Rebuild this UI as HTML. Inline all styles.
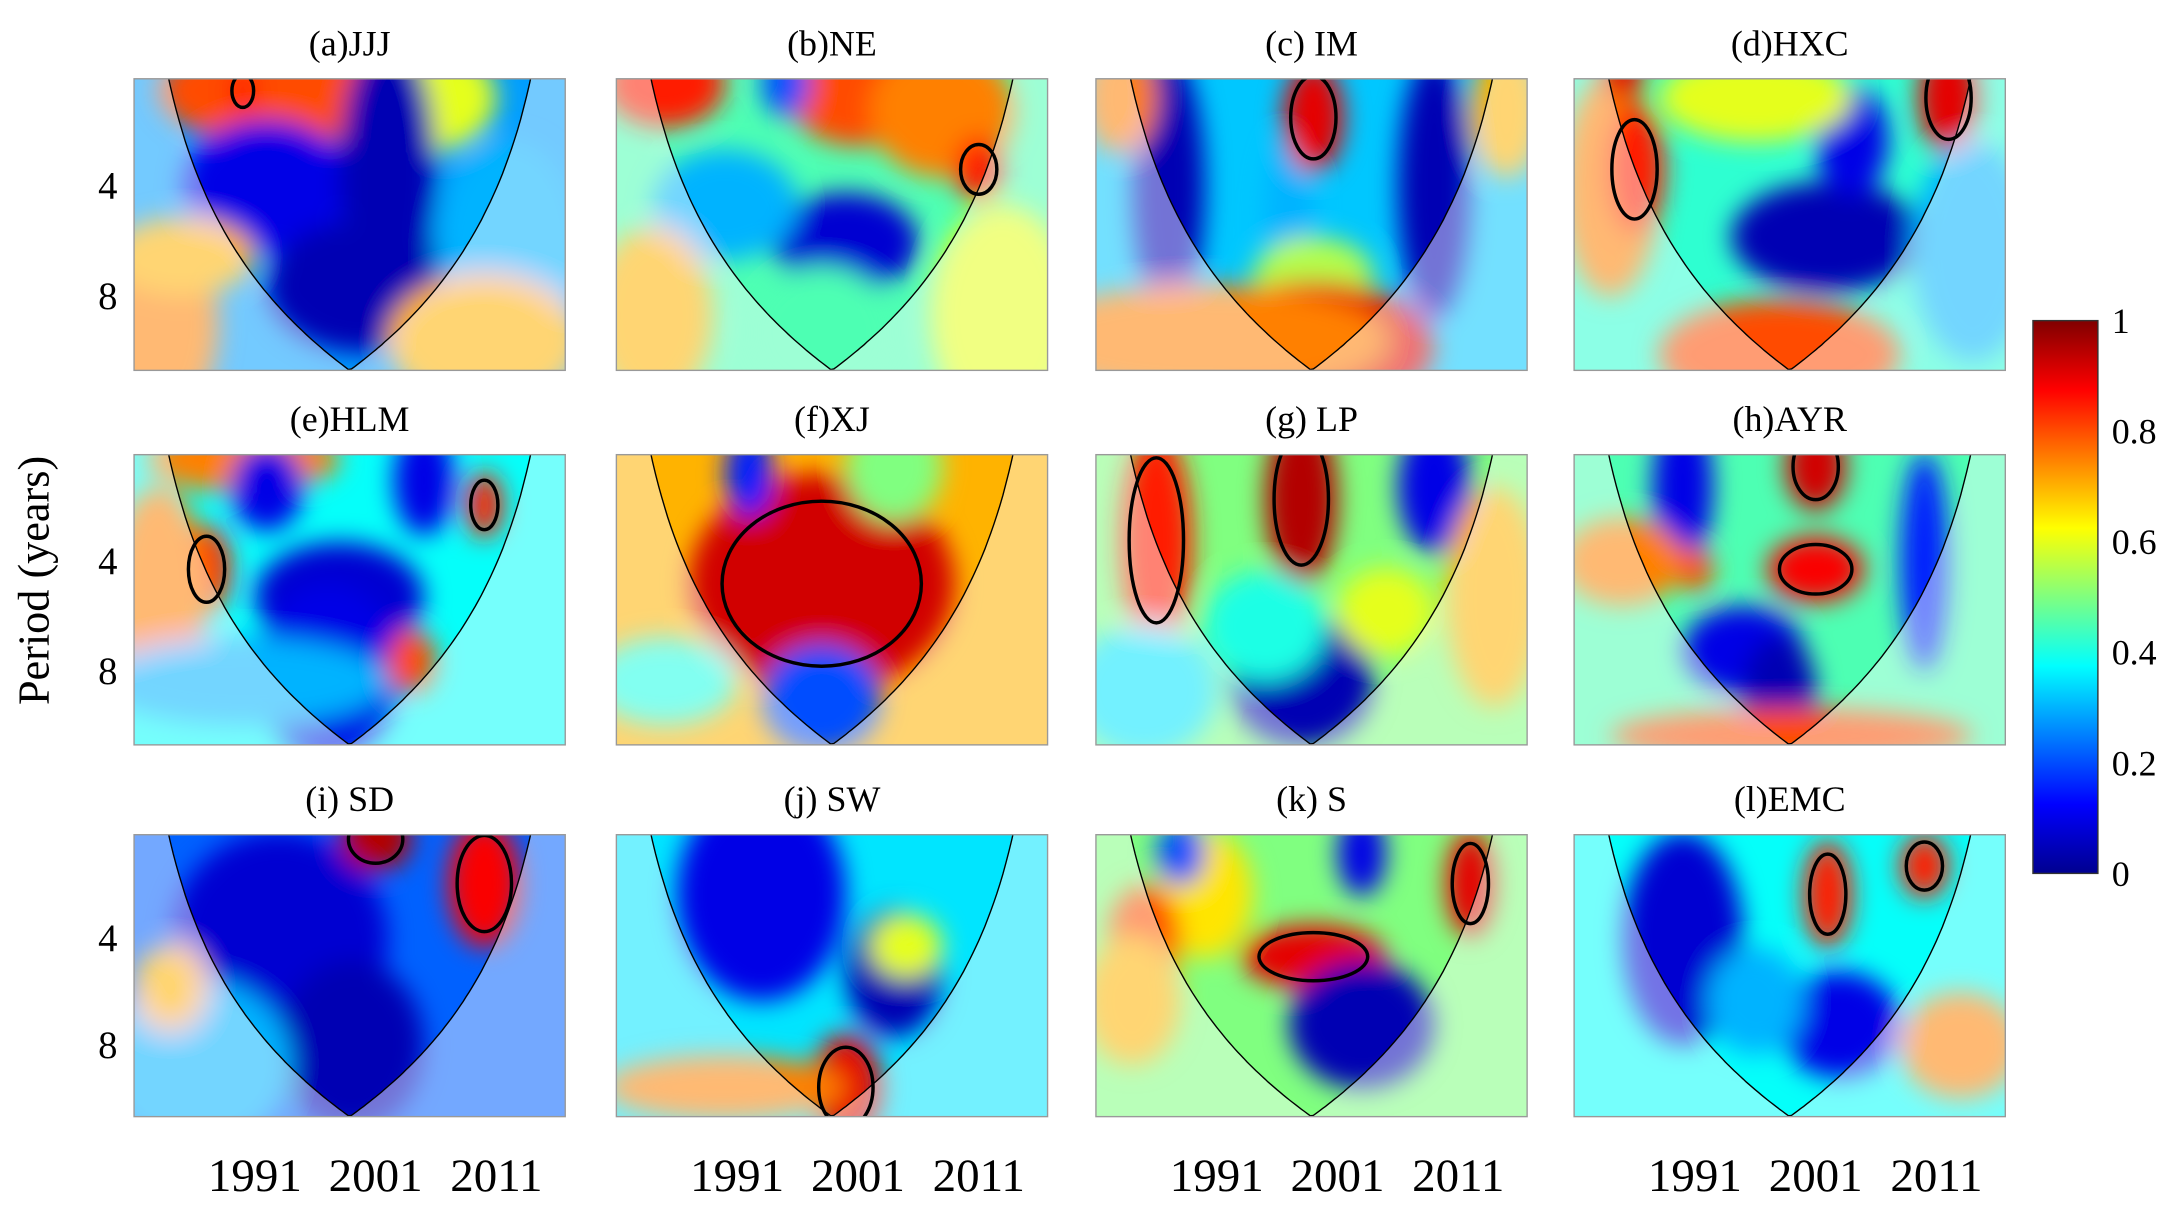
<!DOCTYPE html>
<html><head><meta charset="utf-8"><style>
html,body{margin:0;padding:0;background:#fff;}
svg{display:block;font-family:"Liberation Serif",serif;}
</style></head><body>
<svg id="fig" xmlns="http://www.w3.org/2000/svg" width="2167" height="1220" viewBox="0 0 1568 882.8" preserveAspectRatio="none">
<defs>
<filter id="blur" x="-50%" y="-50%" width="200%" height="200%"><feGaussianBlur stdDeviation="9"/></filter>
<linearGradient id="jetgrad" x1="0" y1="1" x2="0" y2="0">
<stop offset="0" stop-color="#00008f"/><stop offset="0.125" stop-color="#0000ff"/><stop offset="0.375" stop-color="#00ffff"/><stop offset="0.625" stop-color="#ffff00"/><stop offset="0.875" stop-color="#ff0000"/><stop offset="1" stop-color="#800000"/>
</linearGradient>
</defs>
<g id="panels"></g>
<text transform="translate(35,420) rotate(-90)" text-anchor="middle" font-size="32">Period (years)</text>
<g>
<rect x="1471" y="232" width="47" height="400" fill="url(#jetgrad)" stroke="#333" stroke-width="1"/>
<g id="cbticks" font-size="26"></g>
</g>
</svg>
<script>
const titles = ["(a)JJJ","(b)NE","(c) IM","(d)HXC","(e)HLM","(f)XJ","(g) LP","(h)AYR","(i) SD","(j) SW","(k) S","(l)EMC"];
const baseValues = [0.28,0.45,0.32,0.42,0.38,0.7,0.5,0.45,0.22,0.35,0.5,0.38];
// blobs: [year, period, halfWidthYears, halfHeightOctaves, coherence, significantContour]
const blobsA = [[1993,2.2,10,0.5,0.8,0],[2005,2.3,6,0.5,0.6,0],[1992,4,7,0.6,0.1,0],[2002,3.6,4,1.2,0.05,0],[2000,7.5,8,0.6,0.05,0],[1983,9.5,5,0.9,0.75,0],[2012,6,6,1,0.3,0],[1985,6.2,6,0.35,0.7,0],[2010,10.5,8,0.6,0.7,0],[1990,2.2,1.2,0.2,0.85,1]];
const blobsB = [[1985,2.1,5,0.4,0.85,0],[2001,2.2,6,0.5,0.8,0],[2008,2.5,6,0.6,0.75,0],[1995,2.1,2,0.3,0.2,0],[2000,5.7,6,0.45,0.08,0],[1990,4.5,6,0.5,0.3,0],[2011,3.6,2,0.3,0.85,1],[1998,10,6,0.6,0.45,0],[2013,9,6,1,0.6,0],[1984,9,5,0.8,0.7,0]];
const blobsC = [[1987,4,3,1.2,0.05,0],[2009,4,3,1.2,0.05,0],[1997,5,2,0.8,0.3,0],[1999,2.6,2.5,0.5,0.9,1],[1999,7,5,0.35,0.55,0],[1999,11,10,0.6,0.9,0],[1983,2.3,3,0.5,0.75,0],[2015,2.5,3,0.6,0.7,0],[1990,10.5,15,0.5,0.75,0]];
const blobsD = [[1984,4,4,1,0.75,0],[1986,3.6,2.5,0.6,0.85,1],[1985,2,2,0.2,0.9,0],[2002,5.5,8,0.5,0.05,0],[2004,3,3,0.5,0.1,0],[2012,2.3,2.5,0.5,0.9,1],[1996,2.3,8,0.4,0.6,0],[1998,11.5,10,0.5,0.8,0],[2014,6,5,1,0.3,0]];
const blobsE = [[1990,2.1,8,0.3,0.75,0],[1992,2.5,3,0.4,0.1,0],[2005,2.4,2.5,0.5,0.1,0],[1987,4.2,2,0.4,0.85,1],[1998,5,7,0.5,0.08,0],[1997,8,6,0.8,0.1,0],[2010,2.8,1.5,0.3,0.85,1],[2004,7.5,2,0.3,0.8,0],[1983,5,4,1,0.75,0],[1990,8.5,12,0.4,0.3,0]];
const blobsF = [[1998,4.6,11,1,0.92,1],[1992,2.3,2,0.4,0.15,0],[2004,2.2,4,0.5,0.5,0],[1998,9.5,5,0.5,0.2,0],[1985,8.5,6,0.4,0.4,0]];
const blobsG = [[1986,3.5,3,1,0.85,1],[1998,2.7,3,0.8,0.95,1],[2009,2.5,3,0.6,0.1,0],[1998,8.5,6,0.6,0.05,0],[1995,6,5,0.5,0.4,0],[2005,5.5,4,0.4,0.6,0],[1985,9,6,0.6,0.35,0],[2014,5,4,1,0.7,0]];
const blobsH = [[1990,2.5,2.5,0.7,0.1,0],[2001,2.2,2.5,0.4,0.92,1],[2001,4.2,4,0.3,0.88,1],[1991,4.2,1.5,0.2,0.8,0],[1995,7,5,0.4,0.1,0],[1998,9,3,0.5,0.05,0],[2010,4,2,1,0.15,0],[1985,4,5,0.4,0.75,0],[1999,12,15,0.25,0.8,0]];
const blobsI = [[1993,4,9,1,0.08,0],[2001,2.1,3,0.3,0.95,1],[2010,2.8,3,0.6,0.88,1],[1999,8,6,0.8,0.05,0],[1986,9,8,0.8,0.3,0],[1984,5.5,3,0.4,0.7,0]];
const blobsJ = [[1993,3,7,1,0.1,0],[2004,5,4,0.6,0.05,0],[2000,10.5,3,0.5,0.9,1],[1990,10.5,10,0.3,0.75,0],[2005,4.2,3,0.3,0.6,0]];
const blobsK = [[1999,4.5,6,0.3,0.9,1],[2012,2.8,2,0.5,0.9,1],[1990,3,4,0.6,0.65,0],[1988,2.3,2,0.3,0.2,0],[2003,2.3,2,0.4,0.1,0],[2003,7,6,0.6,0.05,0],[1985,4,3,0.5,0.8,0],[1984,6,4,0.6,0.7,0]];
const blobsL = [[1990,4,5,1,0.08,0],[2002,3,2,0.5,0.85,1],[2010,2.5,2,0.3,0.85,1],[2003,7,5,0.5,0.1,0],[2013,8,5,0.5,0.75,0],[1996,6,4,0.5,0.3,0]];
const allBlobs = [blobsA,blobsB,blobsC,blobsD,blobsE,blobsF,blobsG,blobsH,blobsI,blobsJ,blobsK,blobsL];
const xTickYears = [1991,2001,2011];
const yTickPeriods = [4,8];
const cbTicks = [0,0.2,0.4,0.6,0.8,1];

const NS="http://www.w3.org/2000/svg";
const colX=[97,446,793,1139], rowY=[57,329,604], PW=312, PH=[211,210,204];
const yr0=1981, yr1=2016.7, p0=2.04, p1=12.7;
function jet(v){const c=t=>Math.round(255*Math.max(0,Math.min(1,1.5-Math.abs(4*v-t))));return `rgb(${c(3)},${c(2)},${c(1)})`;}
function mk(tag,attrs,parent){const e=document.createElementNS(NS,tag);for(const k in attrs)e.setAttribute(k,attrs[k]);parent.appendChild(e);return e;}
const root=document.getElementById('panels');
for(let i=0;i<12;i++){
  const r=Math.floor(i/4), c=i%4, x0=colX[c], y0=rowY[r], ph=PH[r];
  const sx=y=>x0+(y-yr0)/(yr1-yr0)*PW;
  const oct=ph/Math.log2(p1/p0);
  const sy=p=>y0+Math.log2(p/p0)*oct;
  const g=mk('g',{},root);
  
  
  const cp=mk('clipPath',{id:'cp'+i},g);
  mk('rect',{x:x0,y:y0,width:PW,height:ph},cp);
  const inner=mk('g',{'clip-path':`url(#cp${i})`},g);
  mk('rect',{x:x0,y:y0,width:PW,height:ph,fill:jet(baseValues[i])},inner);
  const bl=mk('g',{filter:'url(#blur)'},inner);
  allBlobs[i].forEach(b=>{
    const e=mk('ellipse',{cx:sx(b[0]),cy:sy(b[1]),rx:b[2]/(yr1-yr0)*PW,ry:b[3]*oct,fill:jet(b[4])},bl);
    
    
  });
  const k=p1/((yr1-yr0)/2);
  let pts=[];
  for(let t=yr0;t<=yr1+0.01;t+=0.25){const d=Math.min(t-yr0,yr1-t);const p=Math.max(k*d,0.5);pts.push([sx(t),Math.min(sy(p),y0+ph)]);}
  const coneLine='M'+pts.map(p=>p[0].toFixed(1)+','+p[1].toFixed(1)).join('L');
  const ov=mk('path',{d:coneLine+`L${x0+PW+5},${y0-40}L${x0+PW+5},${y0+ph+5}L${x0-5},${y0+ph+5}L${x0-5},${y0-40}Z`,fill:'#fff','fill-opacity':0.45},inner);
  
  
  allBlobs[i].filter(b=>b[5]).forEach(b=>{
    const e=mk('ellipse',{cx:sx(b[0]),cy:sy(b[1]),rx:0.75*b[2]/(yr1-yr0)*PW,ry:0.75*b[3]*oct,fill:'none',stroke:'#000','stroke-width':2.5},inner);
    
    
  });
  const cl=mk('path',{d:coneLine,fill:'none',stroke:'#000','stroke-width':1},inner);
  
  
  mk('rect',{x:x0,y:y0,width:PW,height:ph,fill:'none',stroke:'#999','stroke-width':1},g);
  const t=mk('text',{x:x0+PW/2,y:y0-17,'text-anchor':'middle','font-size':26},g);
  t.textContent=titles[i];
  
  
  if(c===0){yTickPeriods.forEach(p=>{const tt=mk('text',{x:x0-12,y:sy(p)+9,'text-anchor':'end','font-size':28},g);tt.textContent=p;
    
    });}
  if(r===2){xTickYears.forEach(yv=>{const tt=mk('text',{x:sx(yv),y:862,'text-anchor':'middle','font-size':34},g);tt.textContent=yv;
    
    });}
}
const cb=document.getElementById('cbticks');
cbTicks.forEach(v=>{const t=mk('text',{x:1528,y:632-v*400+9},cb);t.textContent=v;
  
  });
</script>
</body></html>
